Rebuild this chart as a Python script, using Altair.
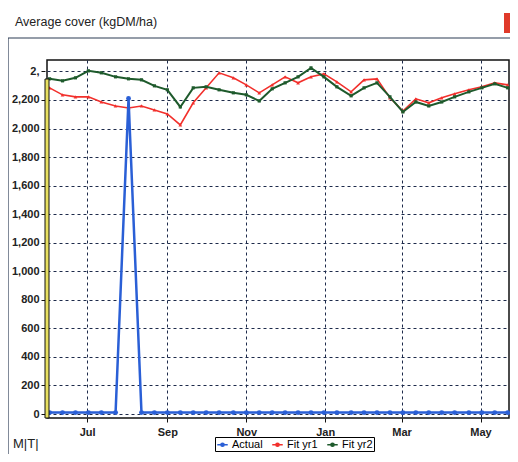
import altair as alt
import pandas as pd

# ---------------- data ----------------
dates = [
    "2013-06-02", "2013-06-12", "2013-06-22", "2013-07-02", "2013-07-12", "2013-07-23",
    "2013-08-02", "2013-08-12", "2013-08-22", "2013-09-01", "2013-09-11", "2013-09-21",
    "2013-10-01", "2013-10-11", "2013-10-22", "2013-11-01", "2013-11-11", "2013-11-21",
    "2013-12-01", "2013-12-11", "2013-12-21", "2013-12-31", "2014-01-10", "2014-01-21",
    "2014-01-31", "2014-02-10", "2014-02-20", "2014-03-02", "2014-03-12", "2014-03-22",
    "2014-04-01", "2014-04-11", "2014-04-22", "2014-05-02", "2014-05-12", "2014-05-22",
]
actual = [10, 10, 10, 10, 10, 10, 2210, 10, 10, 10, 10, 10,
          10, 10, 10, 10, 10, 10, 10, 10, 10, 10, 10, 10,
          10, 10, 10, 10, 10, 10, 10, 10, 10, 10, 10, 10]
fit_yr1 = [2285, 2236, 2222, 2222, 2186, 2158, 2144, 2158, 2130, 2102, 2025, 2180,
           2285, 2390, 2355, 2306, 2250, 2306, 2362, 2320, 2362, 2383, 2327, 2257,
           2341, 2348, 2215, 2123, 2208, 2180, 2215, 2243, 2271, 2292, 2320, 2306]
fit_yr2 = [2348, 2334, 2355, 2404, 2390, 2362, 2348, 2341, 2299, 2271, 2151, 2285,
           2292, 2271, 2250, 2236, 2193, 2278, 2320, 2362, 2425, 2362, 2292, 2229,
           2285, 2320, 2222, 2116, 2186, 2158, 2186, 2222, 2257, 2285, 2313, 2285]

series_names = ["Actual", "Fit yr1", "Fit yr2"]
series_colors = ["#2a5fd6", "#f2302c", "#1e5a2c"]
series_shapes = ["circle", "triangle-up", "square"]
series_sizes = [24, 14, 10]
series_widths = [2.5, 1.6, 2.0]

y_tick_values = [0, 200, 400, 600, 800, 1000, 1200, 1400, 1600, 1800, 2000, 2200, 2400]
x_tick_months = [(2013, 7), (2013, 9), (2013, 11), (2014, 1), (2014, 3), (2014, 5)]

title_text = "Average cover (kgDM/ha)"
button_text = "M|T|"

# ---------------- build table ----------------
rows = []
for name, vals in zip(series_names, [actual, fit_yr1, fit_yr2]):
    for d, v in zip(dates, vals):
        rows.append({"date": d, "series": name, "value": v})
df = pd.DataFrame(rows)

FONT = "Liberation Sans"
W, H = 462, 358

# legend glyph: a short line with a small marker in the middle
GLYPH = "M-1,0H1M-0.3,0A0.3,0.3,0,1,0,0.3,0A0.3,0.3,0,1,0,-0.3,0Z"

x_enc = alt.X(
    "date:T",
    scale=alt.Scale(
        type="utc",
        domain=[alt.DateTime(year=2013, month=5, date=31, utc=True),
                alt.DateTime(year=2014, month=5, date=23, utc=True)],
        nice=False,
    ),
    axis=alt.Axis(
        title=None,
        values=[alt.DateTime(year=y, month=m, date=1, utc=True) for y, m in x_tick_months],
        format="%b",
        domain=False,
        tickSize=4,
        tickColor="#111",
        labelPadding=4,
        labelFont=FONT,
        labelFontSize=11,
        labelFontWeight="bold",
        labelColor="#222",
        grid=True,
        gridColor="#1d2a4a",
        gridDash=[3, 3],
        gridWidth=1,
    ),
)
y_enc = alt.Y(
    "value:Q",
    scale=alt.Scale(domain=[-28, 2480], nice=False, zero=False),
    axis=alt.Axis(
        title=None,
        values=y_tick_values,
        labelExpr="datum.value == 2400 ? '2,' : format(datum.value, ',')",
        domain=False,
        offset=2,
        tickSize=4,
        tickColor="#111",
        labelPadding=2,
        labelFont=FONT,
        labelFontSize=11,
        labelFontWeight="bold",
        labelColor="#222",
        grid=True,
        gridColor="#1d2a4a",
        gridDash=[3, 3],
        gridWidth=1,
    ),
)
color_enc = alt.Color(
    "series:N",
    scale=alt.Scale(domain=series_names, range=series_colors),
    legend=alt.Legend(
        orient="none",
        legendX=168,
        legendY=377,
        direction="horizontal",
        title=None,
        strokeColor="#000",
        fillColor="white",
        padding=1,
        labelFont=FONT,
        labelFontSize=11,
        labelColor="#000",
        symbolType=GLYPH,
        symbolStrokeWidth=1.6,
        symbolSize=110,
        columnPadding=6,
        labelOffset=3,
    ),
)

base = alt.Chart(df)
layers = []
for name, shape, size, width in [
    ("Fit yr1", series_shapes[1], series_sizes[1], series_widths[1]),
    ("Fit yr2", series_shapes[2], series_sizes[2], series_widths[2]),
    ("Actual", series_shapes[0], series_sizes[0], series_widths[0]),
]:
    sub = base.transform_filter(alt.datum.series == name)
    layers.append(sub.mark_line(strokeWidth=width).encode(x=x_enc, y=y_enc, color=color_enc))
    layers.append(sub.mark_point(filled=True, shape=shape, size=size, opacity=1).encode(
        x=x_enc, y=y_enc, color=color_enc))

# ---------------- frame decorations ----------------
deco = alt.Chart(pd.DataFrame({"t": [title_text], "b": [button_text]}))
title_layer = deco.mark_text(align="left", baseline="middle", font=FONT, fontSize=12.5,
                             color="#222").encode(
    x=alt.value(-32), y=alt.value(-38), text="t:N")
button_layer = deco.mark_text(align="left", baseline="top", font=FONT, fontSize=13,
                              color="#222").encode(
    x=alt.value(-34), y=alt.value(378), text="b:N")
frame_top = deco.mark_rule(color="#2c3c55", strokeWidth=1.2).encode(
    x=alt.value(-39), x2=alt.value(W + 1), y=alt.value(-22))
frame_left = deco.mark_rule(color="#2c3c55", strokeWidth=1.2).encode(
    x=alt.value(-39), y=alt.value(-22), y2=alt.value(H + 40))
red_box = deco.mark_rect(color="#e03a2a").encode(
    x=alt.value(W - 5), x2=alt.value(W + 1), y=alt.value(-47), y2=alt.value(-27))
yellow_bar = deco.mark_rect(fill="#e8e060", stroke="#111", strokeWidth=1).encode(
    x=alt.value(-2), x2=alt.value(2), y=alt.value(19), y2=alt.value(H))

chart = alt.layer(
    *layers, yellow_bar, title_layer, button_layer, frame_top, frame_left, red_box
).properties(
    width=W,
    height=H,
    padding={"left": 39, "top": 52, "right": 1, "bottom": 36},
    autosize=alt.AutoSizeParams(type="none"),
    background="white",
).configure_view(stroke="#111", strokeWidth=1.5)

chart.save("out.html", embed_options={"renderer": "svg", "actions": False})
